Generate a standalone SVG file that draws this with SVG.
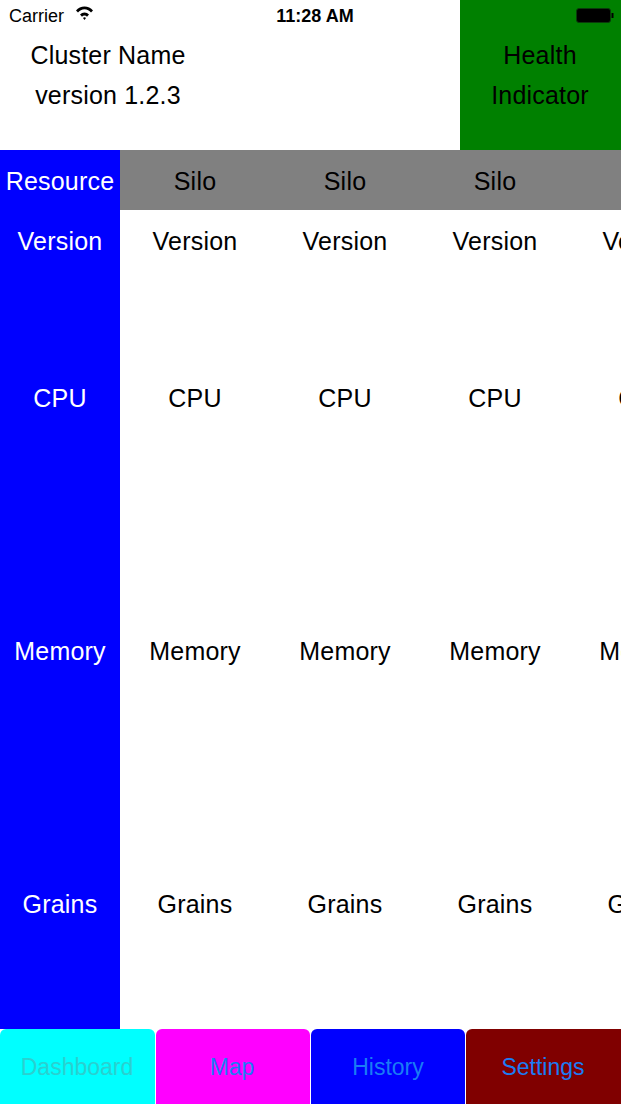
<svg xmlns="http://www.w3.org/2000/svg" width="621" height="1104" viewBox="0 0 621 1104">
<style>
text{font-family:"Liberation Sans",Arial,sans-serif;}
.t{font-size:25px;fill:#000;text-anchor:middle;letter-spacing:0.2px;}
.w{font-size:25px;fill:#fff;text-anchor:middle;letter-spacing:0.2px;}
.s{font-size:18px;fill:#000;}
.tab{font-size:23px;text-anchor:middle;fill:#1a7cf5;}
</style>
<rect x="0" y="0" width="621" height="1104" fill="#fff"/>
<g id="health">
<rect x="460" y="0" width="161" height="150" fill="#008000"/>
<text class="t" x="540" y="64">Health</text>
<text class="t" x="540" y="104">Indicator</text>
</g>
<g id="statusbar">
<text class="s" x="9" y="22">Carrier</text>
<path d="M76 10.5 a11 11 0 0 1 17 0 l-2 2.1 a8 8 0 0 0 -13 0 z M80 14.6 a6 6 0 0 1 9 0 l-2 2.1 a3.3 3.3 0 0 0 -5 0 z M83 18 a2.2 2.2 0 0 1 3 0 L84.5 20 z" fill="#000"/>
<text class="s" x="315" y="22" text-anchor="middle" style="font-weight:600">11:28 AM</text>
<rect x="576.5" y="8.5" width="34" height="14" rx="2.5" fill="#000" stroke="#0a3a0a"/>
<rect x="611.5" y="13" width="2" height="5" fill="#000"/>
</g>
<g id="title">
<text class="t" x="108" y="64">Cluster Name</text>
<text class="t" x="108" y="104">version 1.2.3</text>
</g>
<g id="header">
<rect x="120" y="150" width="501" height="60" fill="#808080"/>
<text class="t" x="195" y="190">Silo</text>
<text class="t" x="345" y="190">Silo</text>
<text class="t" x="495" y="190">Silo</text>
</g>
<g id="resourceColumn">
<rect x="0" y="150" width="120" height="879" fill="#0000ff"/>
<text class="w" x="60" y="190">Resource</text>
<text class="w" x="60" y="250">Version</text>
<text class="w" x="60" y="407">CPU</text>
<text class="w" x="60" y="660">Memory</text>
<text class="w" x="60" y="913">Grains</text>
</g>
<g id="silo1">
<text class="t" x="195" y="250">Version</text>
<text class="t" x="195" y="407">CPU</text>
<text class="t" x="195" y="660">Memory</text>
<text class="t" x="195" y="913">Grains</text>
</g>
<g id="silo2">
<text class="t" x="345" y="250">Version</text>
<text class="t" x="345" y="407">CPU</text>
<text class="t" x="345" y="660">Memory</text>
<text class="t" x="345" y="913">Grains</text>
</g>
<g id="silo3">
<text class="t" x="495" y="250">Version</text>
<text class="t" x="495" y="407">CPU</text>
<text class="t" x="495" y="660">Memory</text>
<text class="t" x="495" y="913">Grains</text>
</g>
<g id="silo4">
<text class="t" x="645" y="250">Version</text>
<text class="t" x="645" y="407">CPU</text>
<text class="t" x="645" y="660">Memory</text>
<text class="t" x="645" y="913">Grains</text>
</g>
<g id="tabs">
<g id="tabDashboard">
<rect x="0" y="1029" width="155" height="80" rx="6" fill="#00ffff"/>
<text class="tab" x="77" y="1075" style="fill:#2ad0d0">Dashboard</text>
</g>
<g id="tabMap">
<rect x="156" y="1029" width="154" height="80" rx="6" fill="#ff00ff"/>
<text class="tab" x="232" y="1075">Map</text>
</g>
<g id="tabHistory">
<rect x="311" y="1029" width="154" height="80" rx="6" fill="#0000ff"/>
<text class="tab" x="388" y="1075">History</text>
</g>
<g id="tabSettings">
<rect x="466" y="1029" width="160" height="80" rx="6" fill="#800000"/>
<text class="tab" x="543" y="1075">Settings</text>
</g>
</g>
</svg>
